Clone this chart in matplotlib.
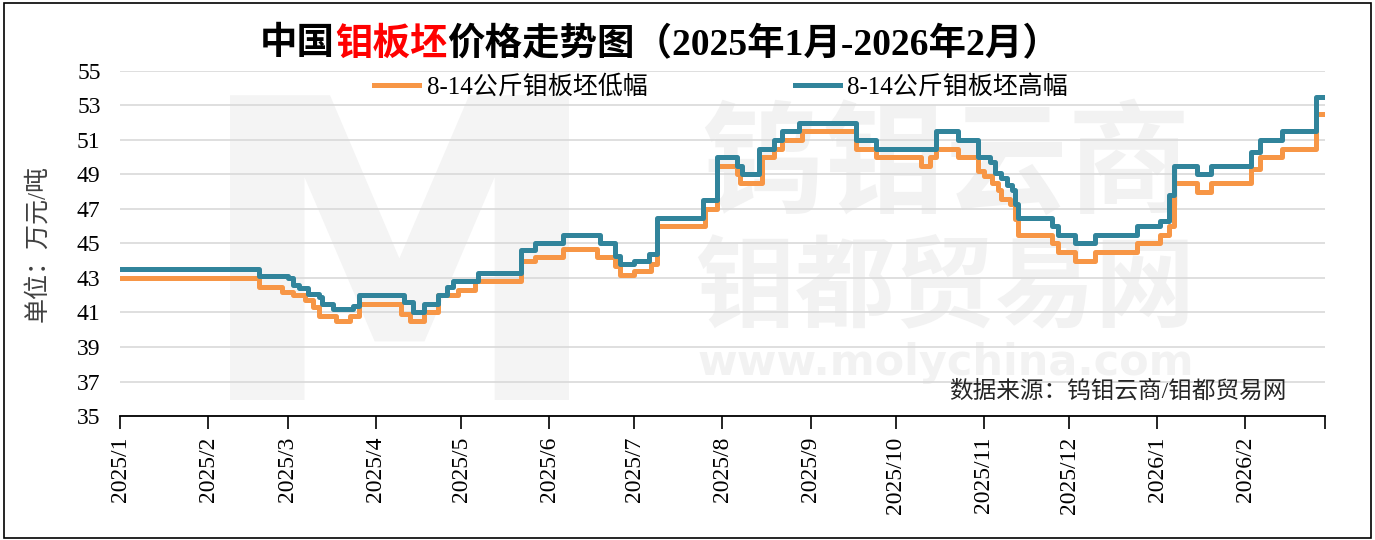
import matplotlib
matplotlib.use("Agg")
import matplotlib.pyplot as plt
import pandas as pd
from matplotlib.patches import Rectangle, PathPatch
from matplotlib.textpath import TextPath
from matplotlib.font_manager import FontProperties
from matplotlib.transforms import Affine2D, IdentityTransform

plt.rcParams['font.family'] = ['Liberation Serif', 'Noto Sans CJK SC', 'DejaVu Sans']

# 8-14公斤钼板坯高幅 (change points, 万元/吨)
high_dates = ["2025-01-01", "2025-02-19", "2025-03-01", "2025-03-03", "2025-03-05", "2025-03-08",
              "2025-03-12", "2025-03-13", "2025-03-17", "2025-03-24", "2025-03-26", "2025-04-11",
              "2025-04-14", "2025-04-18", "2025-04-23", "2025-04-26", "2025-04-28", "2025-05-07",
              "2025-05-22", "2025-05-27", "2025-06-06", "2025-06-19", "2025-06-24", "2025-06-26",
              "2025-07-01", "2025-07-06", "2025-07-09", "2025-07-25", "2025-07-30", "2025-08-06",
              "2025-08-08", "2025-08-14", "2025-08-19", "2025-08-22", "2025-08-28", "2025-09-17",
              "2025-09-24", "2025-10-15", "2025-10-23", "2025-10-30", "2025-11-03", "2025-11-05",
              "2025-11-07", "2025-11-09", "2025-11-11", "2025-11-12", "2025-11-13", "2025-11-25",
              "2025-11-27", "2025-12-03", "2025-12-10", "2025-12-25", "2026-01-02", "2026-01-05",
              "2026-01-07", "2026-01-15", "2026-01-20", "2026-02-03", "2026-02-06", "2026-02-14",
              "2026-02-26", "2026-02-28"]
high_vals = [43.5, 43.1, 43.0, 42.6, 42.4, 42.1,
             41.9, 41.5, 41.2, 41.4, 42.0, 41.6,
             41.0, 41.5, 42.0, 42.5, 42.8, 43.3,
             44.6, 45.0, 45.5, 45.0, 44.3, 43.8,
             44.0, 44.4, 46.5, 47.5, 50.0, 49.5,
             49.0, 50.5, 51.0, 51.5, 52.0, 51.0,
             50.5, 51.5, 51.0, 50.0, 49.7, 49.1,
             48.8, 48.4, 48.1, 47.3, 46.5, 46.0,
             45.5, 45.0, 45.5, 46.0, 46.3, 47.8,
             49.5, 49.0, 49.5, 50.3, 51.0, 51.5,
             53.5, 53.5]

# 8-14公斤钼板坯低幅
low_dates = ["2025-01-01", "2025-02-19", "2025-02-27", "2025-03-03", "2025-03-07", "2025-03-10",
             "2025-03-12", "2025-03-18", "2025-03-23", "2025-03-26", "2025-04-10", "2025-04-13",
             "2025-04-18", "2025-04-23", "2025-04-30", "2025-05-06", "2025-05-22", "2025-05-27",
             "2025-06-06", "2025-06-18", "2025-06-24", "2025-06-26", "2025-07-01", "2025-07-07",
             "2025-07-09", "2025-07-26", "2025-07-30", "2025-08-06", "2025-08-07", "2025-08-15",
             "2025-08-19", "2025-08-22", "2025-08-29", "2025-09-17", "2025-09-24", "2025-10-10",
             "2025-10-13", "2025-10-15", "2025-10-23", "2025-10-30", "2025-11-01", "2025-11-04",
             "2025-11-06", "2025-11-07", "2025-11-10", "2025-11-12", "2025-11-13", "2025-11-25",
             "2025-11-27", "2025-12-03", "2025-12-10", "2025-12-25", "2026-01-02", "2026-01-05",
             "2026-01-07", "2026-01-15", "2026-01-20", "2026-02-03", "2026-02-06", "2026-02-14",
             "2026-02-26", "2026-02-28"]
low_vals = [43.0, 42.5, 42.2, 42.0, 41.7, 41.3,
            40.8, 40.5, 40.8, 41.5, 40.9, 40.5,
            41.0, 42.0, 42.3, 42.8, 44.0, 44.2,
            44.7, 44.2, 43.7, 43.2, 43.4, 43.8,
            46.0, 47.0, 49.5, 49.0, 48.5, 50.0,
            50.5, 51.0, 51.5, 50.5, 50.0, 49.5,
            50.0, 50.5, 50.0, 49.2, 48.9, 48.5,
            48.1, 47.6, 47.3, 46.4, 45.5, 45.0,
            44.5, 44.0, 44.5, 45.0, 45.5, 46.0,
            48.5, 48.0, 48.5, 49.3, 50.0, 50.5,
            52.5, 52.5]

month_ticks = pd.date_range("2025-01-01", "2026-03-01", freq="MS")
tick_labels = [f"{d.year}/{d.month}" for d in month_ticks[:-1]] + [""]
y_ticks = list(range(35, 56, 2))

fig = plt.figure(figsize=(13.75, 5.4), dpi=100)
ax = fig.add_axes([0.0873, 0.2296, 0.8763, 0.639])
ax.patch.set_alpha(0)

# faint watermark: big "M" logo as a path behind the axes, text marks behind the lines
m_path = TextPath((0, 0), "M", size=418, prop=FontProperties(family="DejaVu Sans", weight="bold"))
ext = m_path.get_extents()
m_tr = Affine2D().translate(230 - ext.x0, 140 - ext.y0) + IdentityTransform()
fig.add_artist(PathPatch(m_path, transform=m_tr, fc="#F4F4F4", ec="none", zorder=-1))

ax.text(0.685, 0.72, "钨钼云商", transform=ax.transAxes, fontsize=88, fontweight="bold",
        color="#F2F2F2", ha="center", va="center", family="Noto Sans CJK SC", zorder=0)
ax.text(0.685, 0.37, "钼都贸易网", transform=ax.transAxes, fontsize=72, fontweight="bold",
        color="#F2F2F2", ha="center", va="center", family="Noto Sans CJK SC", zorder=0)
ax.text(0.685, 0.155, "www.molychina.com", transform=ax.transAxes, fontsize=31, fontweight="bold",
        color="#F2F2F2", ha="center", va="center", family="DejaVu Sans", zorder=0)

ax.plot(pd.to_datetime(low_dates), low_vals, drawstyle="steps-post", color="#F79646",
        lw=3.6, label="8-14公斤钼板坯低幅", zorder=3)
ax.plot(pd.to_datetime(high_dates), high_vals, drawstyle="steps-post", color="#31849B",
        lw=3.6, label="8-14公斤钼板坯高幅", zorder=4)

ax.set_ylim(35, 55)
ax.set_yticks(y_ticks)
ax.set_xlim(month_ticks[0], month_ticks[-1])
ax.set_xticks(month_ticks)
ax.set_xticklabels(tick_labels, rotation=90)
ax.tick_params(axis="x", direction="out", length=9, width=1.2, labelsize=17, pad=6)
ax.tick_params(axis="y", length=0, labelsize=17, pad=14)
ax.grid(axis="y", color="#D9D9D9", lw=1.2)
ax.set_axisbelow(True)
for s in ["left", "right", "top"]:
    ax.spines[s].set_visible(False)
ax.spines["bottom"].set_linewidth(1.3)

ax.set_ylabel("单位：万元/吨", fontsize=18, color="#404040", labelpad=20)

ax.text(0.968, 0.07, "数据来源：钨钼云商/钼都贸易网", transform=ax.transAxes,
        fontsize=17, ha="right", va="center", color="#262626")

fig.legend(loc="center", bbox_to_anchor=(0.5244, 0.839), ncol=2, frameon=False,
           fontsize=18, handlelength=1.8, columnspacing=5.9, handletextpad=0.3)

# title with red middle part
fig.canvas.draw()
r = fig.canvas.get_renderer()
parts = [("中国", "black"), ("钼板坯", "red"), ("价格走势图（2025年1月-2026年2月）", "black")]
pieces = []
for s, c in parts:
    t = fig.text(0, 0.917, s, fontsize=27, fontweight="bold", color=c, va="center")
    pieces.append(t)
widths = [t.get_window_extent(r).width for t in pieces]
x = 660 - sum(widths) / 2
for t, w in zip(pieces, widths):
    t.set_x(x / fig.bbox.width)
    x += w

fig.add_artist(Rectangle((0.003, 0.004), 0.994, 0.99, transform=fig.transFigure,
                         fill=False, ec="black", lw=1.2))

fig.savefig("out.png", dpi=100)
